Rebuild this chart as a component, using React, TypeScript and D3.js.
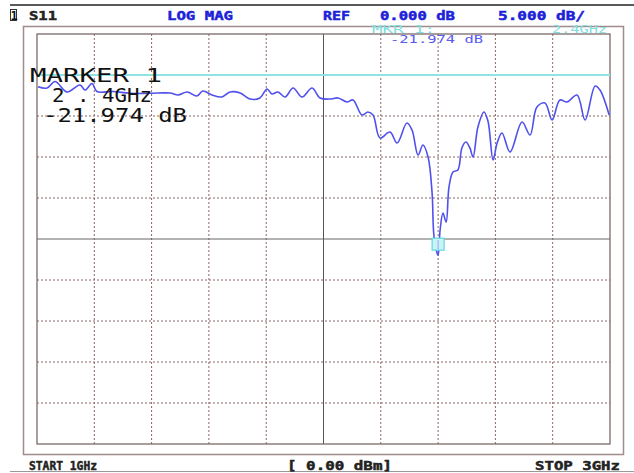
import React from "react";
import * as d3 from "d3";

const freqGHz = [
  1.0035, 1.035, 1.063, 1.105, 1.15, 1.168, 1.192, 1.209, 1.265, 1.325, 1.394, 1.464, 1.492, 1.524,
  1.558, 1.579, 1.611, 1.646, 1.674, 1.709, 1.743, 1.778, 1.803, 1.82, 1.841, 1.866, 1.894, 1.925,
  1.96, 1.988, 2.023, 2.051, 2.082, 2.103, 2.134, 2.155, 2.173, 2.197, 2.232, 2.257, 2.291, 2.309,
  2.33, 2.347, 2.365, 2.379, 2.386, 2.4, 2.407, 2.417, 2.428, 2.438, 2.452, 2.469, 2.483, 2.497,
  2.511, 2.522, 2.539, 2.56, 2.574, 2.592, 2.606, 2.623, 2.651, 2.693, 2.721, 2.745, 2.773, 2.798,
  2.825, 2.85, 2.885, 2.913, 2.948, 2.965, 2.997,
];
const s11dB = [
  -1.43, -1.59, -0.79, -2.07, -1.22, -1.83, -1.04, -2.01, -2.01, -2.23, -2.23, -2.2, -2.44, -2.07,
  -2.56, -1.95, -2.44, -2.68, -2.07, -2.2, -2.93, -2.8, -1.71, -2.32, -2.07, -2.68, -1.59, -2.68,
  -1.59, -2.8, -2.93, -2.8, -3.29, -3.05, -4.88, -4.51, -4.88, -7.68, -6.95, -8.29, -5.85, -6.71,
  -9.76, -8.54, -10.0, -14.39, -19.76, -21.974, -18.9, -16.83, -17.93, -13.66, -11.83, -11.59, -8.9, -8.17,
  -8.9, -10.0, -6.34, -4.51, -5.61, -10.37, -8.29, -7.07, -9.39, -5.73, -7.32, -3.9, -3.41, -5.49,
  -3.05, -3.29, -2.44, -5.49, -1.34, -1.83, -4.88,
];

const freqDomain = [1, 3];
const dbDomain = [5, -45];
const refDb = 0;
const markerFreq = 2.4;
const markerDb = -21.974;
const xDivisions = 10;
const yDivisions = 10;

const headerTexts = ["S11", "LOG MAG", "REF", "0.000 dB", "5.000 dB/"];
const footerTexts = ["START 1GHz", "[ 0.00 dBm]", "STOP 3GHz"];
const markerLines = ["MARKER   1", "2 . 4GHz", "-21.974 dB"];

export default function App() {
  const W = 634;
  const H = 473;
  const x = d3.scaleLinear().domain(freqDomain).range([37, 610]);
  const y = d3.scaleLinear().domain(dbDomain).range([34, 444]);
  const pts = freqGHz.map((f, i) => [f, s11dB[i]] as [number, number]);
  const line = d3
    .line<[number, number]>()
    .x((d) => x(d[0]))
    .y((d) => y(d[1]))
    .curve(d3.curveCatmullRom.alpha(0.5));

  const xTicks = d3.range(xDivisions + 1).map((i) => freqDomain[0] + (i * (freqDomain[1] - freqDomain[0])) / xDivisions);
  const yTicks = d3.range(yDivisions + 1).map((i) => dbDomain[0] + (i * (dbDomain[1] - dbDomain[0])) / yDivisions);

  const mono = "'DejaVu Sans Mono', monospace";
  const blue = "#1c22d8";
  const gridCol = "#8a6464";
  const mx = x(markerFreq);
  const my = y(markerDb);
  const boldText = (col: string) => ({ fill: col, stroke: col, strokeWidth: 0.5 });

  return (
    <svg width={W} height={H} style={{ position: "absolute", left: 0, top: 0, background: "#fff" }}>
      <rect x={0} y={0} width={W} height={H} fill="#fff" />
      {/* top and bottom bars */}
      <line x1={10} x2={W} y1={5} y2={5} stroke="#222" strokeWidth={1.6} />
      <line x1={10} x2={W} y1={471.5} y2={471.5} stroke="#999" strokeWidth={1.2} />
      {/* channel indicator */}
      <rect x={10.5} y={9.5} width={6} height={11} fill="#fff" stroke="#333" strokeWidth={1} />
      <text x={10.5} y={19.5} fontFamily={mono} fontWeight="bold" fontSize={12} fill="#111">1</text>
      {/* header */}
      <text x={29} y={20} fontFamily={mono} fontWeight="bold" fontSize={13} {...boldText("#222")} textLength={28} lengthAdjust="spacingAndGlyphs">{headerTexts[0]}</text>
      <text x={167} y={20} fontFamily={mono} fontWeight="bold" fontSize={13} {...boldText(blue)} textLength={66} lengthAdjust="spacingAndGlyphs">{headerTexts[1]}</text>
      <text x={323} y={20} fontFamily={mono} fontWeight="bold" fontSize={13} {...boldText(blue)} textLength={27} lengthAdjust="spacingAndGlyphs">{headerTexts[2]}</text>
      <text x={380} y={20} fontFamily={mono} fontWeight="bold" fontSize={13} {...boldText(blue)} textLength={75} lengthAdjust="spacingAndGlyphs">{headerTexts[3]}</text>
      <text x={498} y={20} fontFamily={mono} fontWeight="bold" fontSize={13} {...boldText(blue)} textLength={87} lengthAdjust="spacingAndGlyphs">{headerTexts[4]}</text>
      {/* outer frame */}
      <rect x={23.5} y={26.5} width={600} height={428} fill="none" stroke="#a08c8c" strokeWidth={1.5} />
      {/* grid */}
      {xTicks.map((t, i) =>
        i === 0 || i === xDivisions ? null : (
          <line
            key={"vx" + i}
            x1={x(t)}
            x2={x(t)}
            y1={34}
            y2={444}
            stroke={i === xDivisions / 2 ? "#555" : gridCol}
            strokeWidth={1}
            strokeDasharray={i === xDivisions / 2 ? undefined : "2,2"}
          />
        )
      )}
      {yTicks.map((t, i) =>
        i === 0 || i === yDivisions ? null : (
          <line
            key={"hy" + i}
            x1={37}
            x2={610}
            y1={y(t)}
            y2={y(t)}
            stroke={i === yDivisions / 2 ? "#666" : gridCol}
            strokeWidth={1}
            strokeDasharray={i === yDivisions / 2 ? undefined : "2,2"}
          />
        )
      )}
      {/* inner frame */}
      <rect x={37} y={34} width={573} height={410} fill="none" stroke="#7a6a6a" strokeWidth={1.3} />
      {/* reference line */}
      <line x1={37} x2={610} y1={y(refDb)} y2={y(refDb)} stroke="#8ee4e4" strokeWidth={2} />
      {/* trace */}
      <path d={line(pts) || ""} fill="none" stroke="#5050ee" strokeWidth={1.6} strokeLinejoin="round" />
      {/* marker symbol */}
      <rect x={mx - 6} y={my - 17} width={12} height={12} fill="#c8f4f6" stroke="#62d8e2" strokeWidth={1.2} />
      <line x1={mx} x2={mx} y1={my - 15} y2={my - 6} stroke="#9aa6f0" strokeWidth={1} />
      {/* marker readout (top) */}
      <text x={372} y={33} fontFamily={mono} fontSize={10} fill="#7fdede" textLength={63} lengthAdjust="spacingAndGlyphs">MKR 1:</text>
      <text x={552} y={33} fontFamily={mono} fontSize={10} fill="#7fdede" textLength={55} lengthAdjust="spacingAndGlyphs">2.4GHz</text>
      <text x={390} y={43} fontFamily={mono} fontSize={10} fill="#5a5aee" textLength={93} lengthAdjust="spacingAndGlyphs">-21.974 dB</text>
      {/* marker readout (large) */}
      <text x={30} y={82} fontFamily={mono} fontSize={19} fill="#111" textLength={132} lengthAdjust="spacingAndGlyphs">{markerLines[0]}</text>
      <text x={52} y={102} fontFamily={mono} fontSize={19} fill="#111" textLength={100} lengthAdjust="spacingAndGlyphs">{markerLines[1]}</text>
      <text x={43} y={122} fontFamily={mono} fontSize={19} fill="#111" textLength={144} lengthAdjust="spacingAndGlyphs">{markerLines[2]}</text>
      {/* footer */}
      <text x={29} y={470} fontFamily={mono} fontWeight="bold" fontSize={13} {...boldText("#222")} textLength={68} lengthAdjust="spacingAndGlyphs">{footerTexts[0]}</text>
      <text x={287} y={470} fontFamily={mono} fontWeight="bold" fontSize={13} {...boldText("#222")} textLength={105} lengthAdjust="spacingAndGlyphs">{footerTexts[1]}</text>
      <text x={535} y={470} fontFamily={mono} fontWeight="bold" fontSize={13} {...boldText("#222")} textLength={85} lengthAdjust="spacingAndGlyphs">{footerTexts[2]}</text>
    </svg>
  );
}
